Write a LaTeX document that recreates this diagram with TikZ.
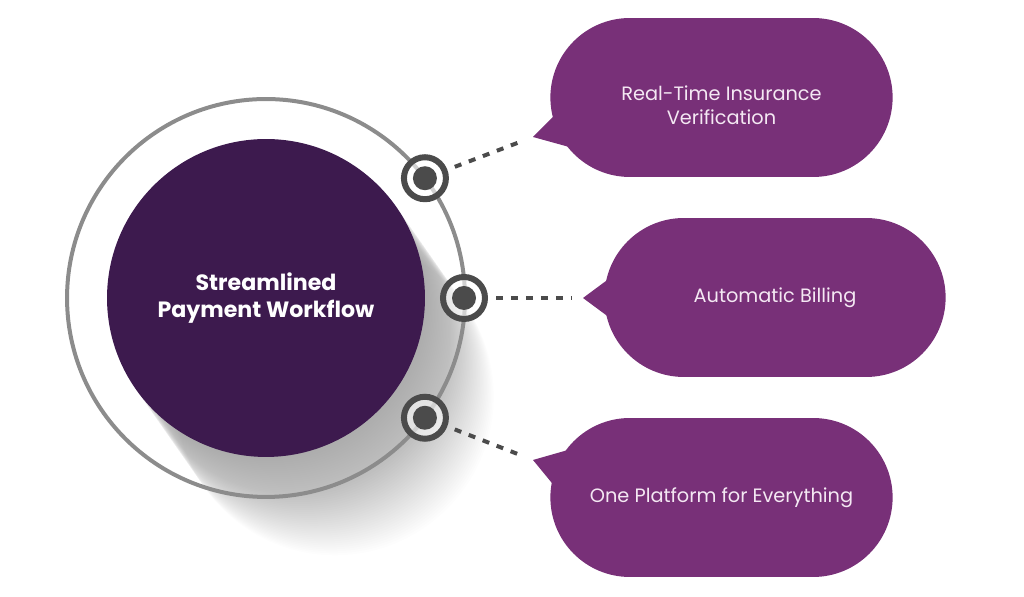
\documentclass[tikz,border=0pt]{standalone}
\usepackage{fontspec}
\setmainfont{Poppins}
\usetikzlibrary{shapes.misc,calc}

\definecolor{hubpurple}{HTML}{3D1A4E}
\definecolor{bubblepurple}{HTML}{783078}
\definecolor{ringgray}{HTML}{8C8C8C}
\definecolor{dotgray}{HTML}{4B4B4B}
\definecolor{bubbletext}{HTML}{F4E8F3}

\begin{document}
\begin{tikzpicture}[x=0.02cm, y=0.02cm,
  hub/.style={circle, fill=hubpurple, minimum size=6.36cm, text=white, align=center,
    font=\bfseries\fontsize{12.6}{15.5}\selectfont},
  ring/.style={circle, draw=ringgray, line width=0.08cm, minimum size=7.96cm},
  marker/.style={circle, draw=dotgray, line width=0.12cm, fill=white, fill opacity=0.6,
    minimum size=0.84cm, path picture={\fill[dotgray, fill opacity=1] (path picture bounding box.center) circle (0.24cm);}},
  bubble/.style={rounded rectangle, fill=bubblepurple, minimum height=3.18cm, text=bubbletext,
    align=center, font=\fontsize{11}{13.6}\selectfont},
  tail/.style={fill=bubblepurple},
  dashline/.style={dotgray, line width=0.08cm, dash pattern=on 0.14cm off 0.16cm,
    shorten <=0.16cm, shorten >=0.22cm}]
  \useasboundingbox (0,0) rectangle (1024,597);

  \coordinate (c) at (266,299);
  % soft shadow
  \foreach \i in {1,...,50}
    \fill[black, fill opacity=0.009] ($(c)+(-55:\i*2.4)$) circle (159);

  \node[ring] (ring) at (c) {};
  \node[hub] (hub) at (c) {Streamlined\\Payment Workflow};

  \node[marker] (m1) at ($(c)+(37:199)$) {};
  \node[marker] (m2) at ($(c)+(0:198)$) {};
  \node[marker] (m3) at ($(c)+(-37:199)$) {};

  % bubbles
  \coordinate (t1) at (533,460);
  \coordinate (t2) at (583,299);
  \coordinate (t3) at (533,137);
  \fill[tail] (t1) -- (560,487) -- (580,447) -- cycle;
  \fill[tail] (t2) -- (610,319) -- (610,279) -- cycle;
  \fill[tail] (t3) -- (568,147) -- (556,109) -- cycle;
  \node[bubble, minimum width=7.08cm] (b1) at (721.5,499.5) {\rule{0pt}{17pt}Real-Time Insurance\\Verification};
  \node[bubble, minimum width=7.06cm] (b2) at (775,299.5) {Automatic Billing};
  \node[bubble, minimum width=7.08cm] (b3) at (721.5,99.5) {One Platform for Everything};

  \draw[dashline] (m1) -- (t1);
  \draw[dashline] (m2) -- (t2);
  \draw[dashline] (m3) -- (t3);
\end{tikzpicture}
\end{document}
